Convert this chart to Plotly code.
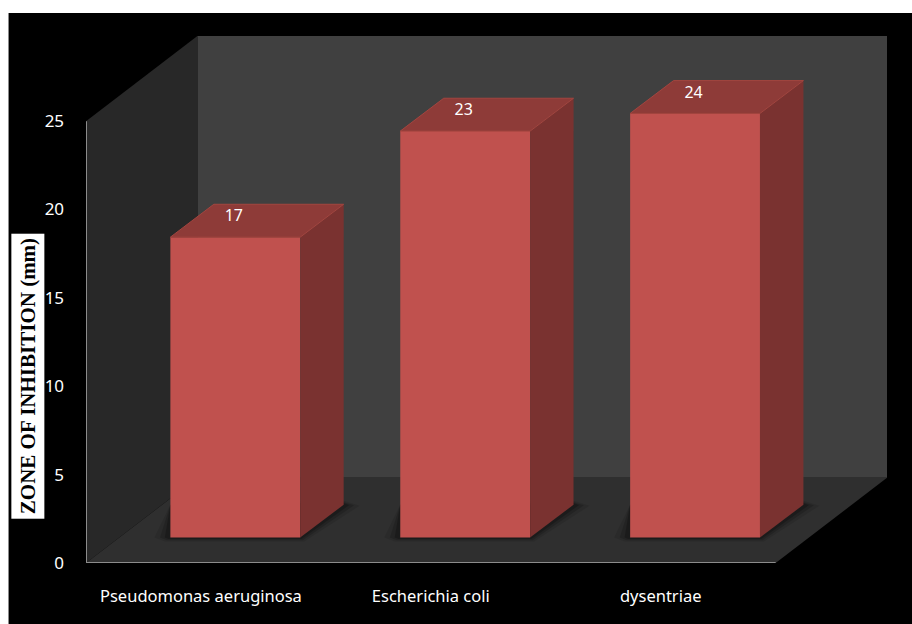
import plotly.graph_objects as go

categories = ["Pseudomonas aeruginosa", "Escherichia coli", "dysentriae"]
values = [17, 23, 24]
y_ticks = [0, 5, 10, 15, 20, 25]
y_title = "ZONE OF INHIBITION (mm)"

W, H = 912, 624
L, R, T, B = 85.5, 25, 36, 60.5
PW, PH = W - L - R, H - T - B
Y_MAX = 25
UX = 230.17            # pixels per category
UY = 17.74             # pixels per y unit
WALL_DX = 111.5 / UX   # depth of the box
WALL_DY = 85.5 / UY
BAR_DX = 43.5 / UX     # depth of a bar
BAR_DY = 33 / UY
BAR_W = 130 / UX
SHIFT_X = 34.4 / UX    # bar position inside the depth
BASE = 25.5 / UY
N = len(categories)

FRONT, SIDE, TOP, RIM = "#C0514E", "#7A3230", "#8E3B38", "#A3453F"
WALL, LEFT, FLOOR, AXIS = "#404040", "#282828", "#2F2F2F", "#8C8C8C"
FONT = "Noto Sans"


def path(pts):
    return "M" + " L".join(f"{x},{y}" for x, y in pts) + " Z"


def px(v):
    return (v - L) / PW


def py(v):
    return 1 - (v - T) / PH


centers = [i + 0.5 for i in range(N)]
fronts = [c + SHIFT_X for c in centers]

shapes = [
    dict(type="rect", xref="paper", yref="paper", x0=px(8), x1=px(W + 5), y0=py(13), y1=py(H + 5),
         fillcolor="#000000", line_width=0, layer="below"),
    dict(type="path", layer="below", line_width=0, fillcolor=WALL,
         path=path([(WALL_DX, WALL_DY), (N + WALL_DX, WALL_DY), (N + WALL_DX, Y_MAX + WALL_DY), (WALL_DX, Y_MAX + WALL_DY)])),
    dict(type="path", layer="below", line_width=0, fillcolor=LEFT,
         path=path([(0, 0), (WALL_DX, WALL_DY), (WALL_DX, Y_MAX + WALL_DY), (0, Y_MAX)])),
    dict(type="path", layer="below", line_width=0, fillcolor=FLOOR,
         path=path([(0, 0), (N, 0), (N + WALL_DX, WALL_DY), (WALL_DX, WALL_DY)])),
]

# soft shadow on the floor
for grow, alpha in [(1.0, 0.1), (0.65, 0.16), (0.35, 0.22)]:
    for f in fronts:
        l, r = f - BAR_W / 2, f + BAR_W / 2
        gx, gy = grow * 16 / UX, grow * 4 / UY
        shapes.append(dict(
            type="path", layer="below", line_width=0, fillcolor=f"rgba(0,0,0,{alpha})",
            path=path([(l - gx, BASE), (l - gx / 3, BASE - gy), (r + gx / 4, BASE - gy),
                       (r + BAR_DX + gx, BASE + BAR_DY - gy / 4), (r + BAR_DX, BASE + BAR_DY + gy),
                       (l, BASE + BAR_DY)])))

fig = go.Figure()

fig.add_trace(go.Bar(x=fronts, y=values, base=BASE, width=BAR_W, marker=dict(color=FRONT, line_width=0),
                     hoverinfo="skip", showlegend=False))

for f, v in zip(fronts, values):
    l, r = f - BAR_W / 2, f + BAR_W / 2
    top = BASE + v
    fig.add_trace(go.Scatter(
        x=[r, r + BAR_DX, r + BAR_DX, r, r], y=[BASE, BASE + BAR_DY, top + BAR_DY, top, BASE],
        mode="lines", fill="toself", fillcolor=SIDE, line=dict(width=0), hoverinfo="skip", showlegend=False))
    fig.add_trace(go.Scatter(
        x=[l, r, r + BAR_DX, l + BAR_DX, l], y=[top, top, top + BAR_DY, top + BAR_DY, top],
        mode="lines", fill="toself", fillcolor=TOP, line=dict(width=1, color=RIM), hoverinfo="skip", showlegend=False))

fig.add_trace(go.Scatter(
    x=[0, 0, N], y=[Y_MAX, 0, 0], mode="lines", line=dict(color=AXIS, width=2), cliponaxis=False,
    hoverinfo="skip", showlegend=False))

fig.add_trace(go.Scatter(
    x=[f - 1.5 / UX for f in fronts], y=[BASE + v + 20 / UY for v in values], mode="text", text=[str(v) for v in values],
    textposition="middle center", textfont=dict(color="#FFFFFF", size=16, family=FONT),
    hoverinfo="skip", showlegend=False))

fig.update_layout(
    width=W, height=H, margin=dict(l=L, r=R, t=T, b=B, autoexpand=False),
    paper_bgcolor="#FFFFFF", plot_bgcolor="rgba(0,0,0,0)", shapes=shapes, showlegend=False,
    xaxis=dict(range=[0, N + WALL_DX], tickvals=centers, ticktext=categories, showgrid=False, zeroline=False,
               showline=False, ticks="outside", ticklen=18, tickcolor="rgba(0,0,0,0)",
               tickfont=dict(color="#FFFFFF", size=16.5, family=FONT), fixedrange=True),
    yaxis=dict(range=[0, Y_MAX + WALL_DY], tickvals=y_ticks, showgrid=False, zeroline=False, showline=False,
               ticks="outside", ticklen=17.5, tickcolor="rgba(0,0,0,0)",
               tickfont=dict(color="#FFFFFF", size=17, family=FONT), fixedrange=True),
    annotations=[dict(
        text=f"<b>{y_title}</b>", xref="paper", yref="paper", x=px(27.5), y=py(376.5), xanchor="center", yanchor="middle",
        showarrow=False, textangle=-90, bgcolor="#FFFFFF", borderpad=4,
        font=dict(family="Liberation Serif", size=21, color="#000000"))],
)

fig.write_html("out.html", config={"displayModeBar": False},
               post_script="document.body.style.margin='0';document.body.style.overflow='hidden';")
